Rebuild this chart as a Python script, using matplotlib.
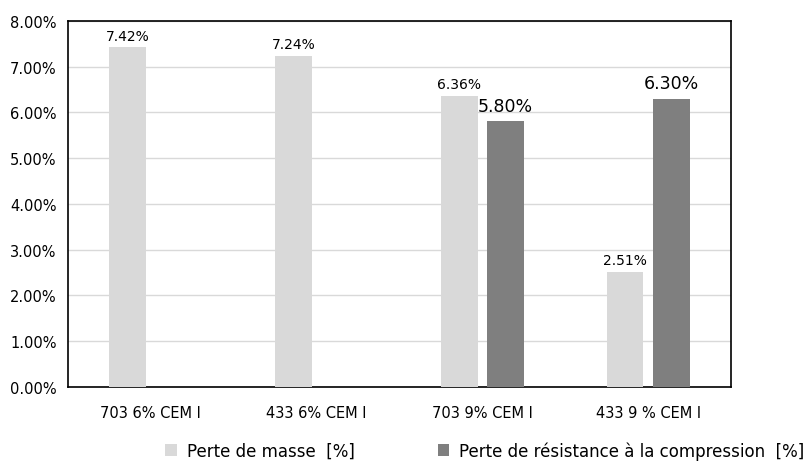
import matplotlib
matplotlib.use("Agg")
import matplotlib.pyplot as plt
import numpy as np

categories = ["703 6% CEM I", "433 6% CEM I", "703 9% CEM I", "433 9 % CEM I"]
perte_masse = [7.42, 7.24, 6.36, 2.51]
perte_resistance = [None, None, 5.80, 6.30]
labels = ["Perte de masse  [%]", "Perte de résistance à la compression  [%]"]

fig = plt.figure(figsize=(8.08, 4.64), dpi=100)
ax = fig.add_axes([0.084, 0.164, 0.821, 0.789])

x = np.arange(len(categories))
w = 0.22
off = 0.14

light = "#d9d9d9"
dark = "#7f7f7f"

b1 = ax.bar(x - off, perte_masse, w, color=light, label=labels[0], zorder=3)
res_x = [xi + off for xi, v in zip(x, perte_resistance) if v is not None]
res_v = [v for v in perte_resistance if v is not None]
b2 = ax.bar(res_x, res_v, w, color=dark, label=labels[1], zorder=3)

for xi, v in zip(x - off, perte_masse):
    ax.text(xi, v + 0.1, f"{v:.2f}%", ha="center", va="bottom", fontsize=10)
for xi, v in zip(res_x, res_v):
    ax.text(xi, v + 0.15, f"{v:.2f}%", ha="center", va="bottom", fontsize=12.5)

ax.set_xlim(-0.5, 3.5)
ax.set_ylim(0, 8)
ax.set_yticks(np.arange(0, 9, 1))
ax.set_yticklabels([f"{t:.2f}%" for t in range(9)], fontsize=10.5)
ax.set_xticks(x)
ax.set_xticklabels(categories, fontsize=10.5)
ax.tick_params(axis="both", length=0, pad=8)
ax.tick_params(axis="x", pad=13)
ax.grid(axis="y", color="#d9d9d9", linewidth=1, zorder=0)
for s in ax.spines.values():
    s.set_color("black")
    s.set_linewidth(1.2)

fig.legend(handles=[b1, b2], loc="lower center", bbox_to_anchor=(0.6, -0.025), ncol=2,
           frameon=False, fontsize=12, handlelength=0.7, handleheight=0.7,
           columnspacing=5, handletextpad=0.6)

fig.savefig("out.png", dpi=100)
